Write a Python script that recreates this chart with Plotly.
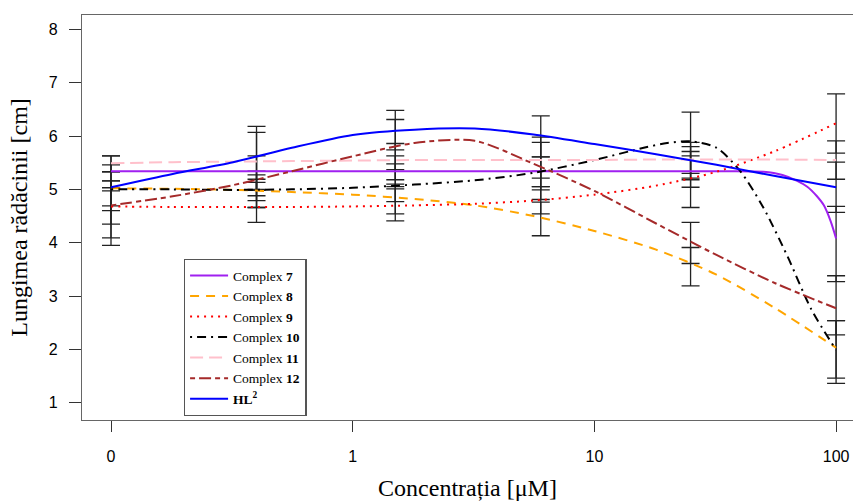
import plotly.graph_objects as go

# ---------------- data ----------------
conc = [0, 0.4, 1.5, 6, 25, 100]          # concentration of measured points (µM)
zero_pos = 0.1                             # where "0" is placed on the log axis

x_ticks = [0, 1, 10, 100]
x_tick_labels = ["0", "1", "10", "100"]
y_ticks = [1, 2, 3, 4, 5, 6, 7, 8]

# error-bar extents (low / high) at each concentration
c7_low = [5.03, 4.98, 5.05, 4.99, 5.04, 3.27]
c7_high = [5.63, 5.63, 5.63, 5.61, 5.63, 4.68]
c8_low = [4.69, 4.66, 4.54, 4.13, 3.19, 1.46]
c8_high = [5.33, 5.19, 5.10, 4.76, 3.91, 2.54]
c9_low = [4.35, 4.38, 4.41, 4.54, 4.66, 5.68]
c9_high = [4.97, 5.13, 5.01, 5.05, 5.71, 6.79]
c10_low = [4.60, 4.66, 4.77, 4.81, 5.30, 1.36]
c10_high = [5.46, 5.27, 5.48, 5.34, 6.45, 2.54]
c11_low = [5.33, 4.88, 5.18, 5.21, 5.21, 5.19]
c11_high = [5.63, 6.07, 5.86, 5.88, 5.80, 5.91]
c12_low = [4.09, 4.79, 5.37, 5.05, 3.61, 2.27]
c12_high = [5.16, 5.34, 6.31, 5.98, 4.38, 3.38]
hl2_low = [3.95, 5.00, 5.74, 5.61, 5.18, 4.57]
hl2_high = [5.16, 6.18, 6.48, 6.38, 5.88, 5.51]

# smooth fitted curves
curve_conc = [0, 0.18, 0.32, 0.56, 1, 1.8, 3.2, 5.6, 10, 18, 32, 56, 100]
c8_curve = [5.02, 5.01, 4.99, 4.95, 4.90, 4.82, 4.70, 4.50, 4.22, 3.87, 3.40, 2.77, 2.03]
c9_curve = [4.68, 4.67, 4.67, 4.67, 4.68, 4.70, 4.73, 4.79, 4.90, 5.07, 5.33, 5.72, 6.24]
c11_curve = [5.49, 5.51, 5.52, 5.53, 5.54, 5.55, 5.55, 5.55, 5.55, 5.56, 5.56, 5.56, 5.55]
c12_curve = [4.70, 4.87, 5.08, 5.34, 5.62, 5.87, 5.91, 5.48, 4.97, 4.36, 3.77, 3.24, 2.77]
hl2_curve = [5.04, 5.29, 5.51, 5.78, 6.02, 6.12, 6.14, 6.03, 5.85, 5.66, 5.46, 5.25, 5.04]

c7_conc = [0, 1, 10, 32, 50, 60, 69, 76, 83, 89, 95, 100]
c7_curve = [5.34, 5.34, 5.34, 5.34, 5.33, 5.27, 5.16, 5.05, 4.88, 4.70, 4.40, 4.08]

c10_conc = [0, 0.18, 0.32, 0.56, 1, 1.8, 3.2, 5.6, 10, 16, 20, 25, 32, 40, 50, 63, 79, 100]
c10_curve = [5.00, 5.00, 4.99, 5.00, 5.03, 5.09, 5.17, 5.31, 5.55, 5.78, 5.87, 5.90,
             5.78, 5.35, 4.66, 3.74, 2.75, 1.99]

names = ["Complex <b>7</b>", "Complex <b>8</b>", "Complex <b>9</b>", "Complex <b>10</b>",
         "Complex <b>11</b>", "Complex <b>12</b>", "<b>HL<sup>2</sup></b>"]
colors = ["#A020F0", "#FFA500", "#FF0000", "#000000", "#FFC0CB", "#A52A2A", "#0000FF"]
dashes = ["solid", "9px,7px", "2px,5px", "2px,5px,9px,5px", "13px,6px", "5px,4px,12px,4px", "solid"]


def pos(c):
    return [zero_pos if v == 0 else v for v in c]


fig = go.Figure()

# error bars
lows = [c7_low, c8_low, c9_low, c10_low, c11_low, c12_low, hl2_low]
highs = [c7_high, c8_high, c9_high, c10_high, c11_high, c12_high, hl2_high]
for lo, hi in zip(lows, highs):
    mid = [(a + b) / 2 for a, b in zip(lo, hi)]
    fig.add_trace(go.Scatter(
        x=pos(conc), y=mid, mode="markers",
        marker=dict(size=1, color="rgba(0,0,0,0)"),
        error_y=dict(type="data", symmetric=False,
                     array=[b - m for b, m in zip(hi, mid)],
                     arrayminus=[m - a for a, m in zip(lo, mid)],
                     color="#222222", thickness=1.3, width=9),
        showlegend=False, hoverinfo="skip"))

curves = [(c7_conc, c7_curve), (curve_conc, c8_curve), (curve_conc, c9_curve),
          (c10_conc, c10_curve), (curve_conc, c11_curve), (curve_conc, c12_curve),
          (curve_conc, hl2_curve)]
for (cx, cy), nm, col, ds in zip(curves, names, colors, dashes):
    fig.add_trace(go.Scatter(
        x=pos(cx), y=cy, mode="lines", name=nm,
        line=dict(color=col, width=2, dash=ds, shape="spline", smoothing=0.8)))

serif = "Liberation Serif, Times New Roman, serif"
fig.update_layout(
    width=853, height=502,
    margin=dict(l=82, r=0, t=15, b=82),
    paper_bgcolor="white", plot_bgcolor="white",
    font=dict(family="Liberation Sans, Arial, sans-serif", color="#000"),
    showlegend=True,
    legend=dict(x=0.132, y=0.398, xanchor="left", yanchor="top",
                bgcolor="white", bordercolor="#555", borderwidth=1.3,
                font=dict(family=serif, size=13.5),
                tracegroupgap=0, itemwidth=38),
    xaxis=dict(type="log", range=[-1.12, 2.07],
               tickvals=pos(x_ticks), ticktext=x_tick_labels,
               showgrid=False, zeroline=False,
               showline=True, linecolor="#666", linewidth=1.3, mirror=True,
               ticks="outside", ticklen=11, tickcolor="#333", tickwidth=1.2,
               ticklabelstandoff=11,
               tickfont=dict(size=16),
               title=dict(text="Concentrația [μM]", standoff=14,
                          font=dict(family=serif, size=24))),
    yaxis=dict(range=[0.675, 8.27], tickvals=y_ticks,
               showgrid=False, zeroline=False,
               showline=True, linecolor="#666", linewidth=1.3, mirror=False,
               ticks="outside", ticklen=12, tickcolor="#333", tickwidth=1.2,
               ticklabelstandoff=8,
               tickfont=dict(size=16),
               title=dict(text="Lungimea rădăcinii [cm]", standoff=14,
                          font=dict(family=serif, size=24))),
)

fig.write_html("out.html")
